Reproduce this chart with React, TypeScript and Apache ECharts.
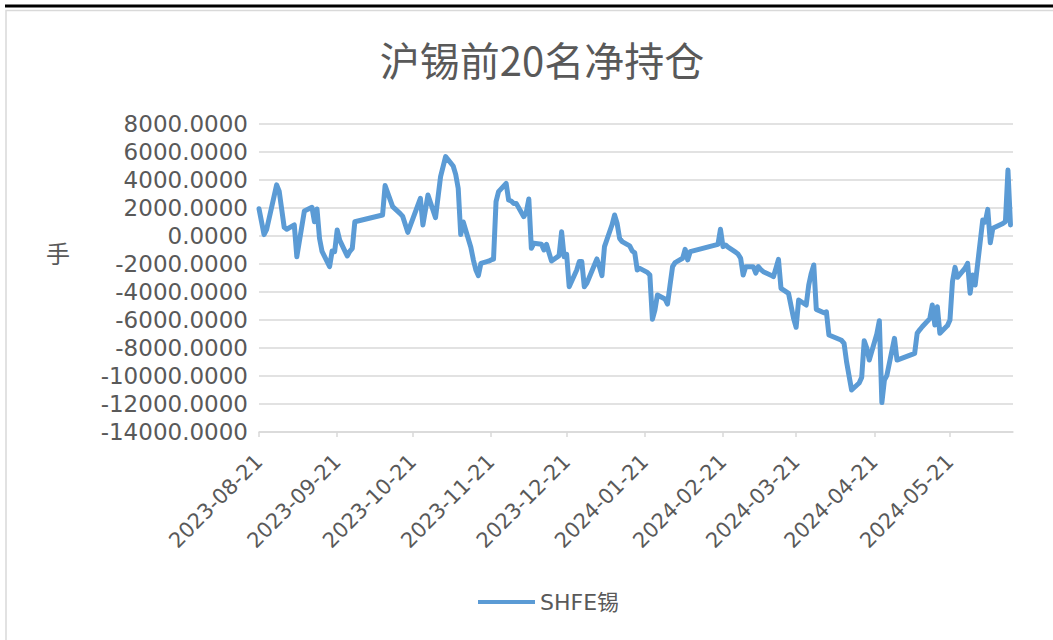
import React, { useEffect, useRef } from "react";
import * as echarts from "echarts";

const seriesName = "SHFE锡";
const titleText = "沪锡前20名净持仓";
const yAxisTitle = "手";

const dates: string[] = [
  "2023-08-21", "2023-08-23", "2023-08-24", "2023-08-28", "2023-08-29", "2023-08-31", "2023-09-01",
  "2023-09-04", "2023-09-05", "2023-09-08", "2023-09-11", "2023-09-12", "2023-09-13", "2023-09-14",
  "2023-09-15", "2023-09-18", "2023-09-19", "2023-09-20", "2023-09-21", "2023-09-22", "2023-09-25",
  "2023-09-26", "2023-09-27", "2023-09-28", "2023-10-09", "2023-10-10", "2023-10-13", "2023-10-16",
  "2023-10-17", "2023-10-19", "2023-10-24", "2023-10-25", "2023-10-27", "2023-10-30", "2023-11-01",
  "2023-11-03", "2023-11-06", "2023-11-07", "2023-11-08", "2023-11-09", "2023-11-10", "2023-11-13",
  "2023-11-14", "2023-11-15", "2023-11-16", "2023-11-17", "2023-11-20", "2023-11-21", "2023-11-22",
  "2023-11-23", "2023-11-24", "2023-11-27", "2023-11-28", "2023-11-29", "2023-11-30", "2023-12-01",
  "2023-12-04", "2023-12-05", "2023-12-06", "2023-12-07", "2023-12-08", "2023-12-11", "2023-12-12",
  "2023-12-13", "2023-12-14", "2023-12-15", "2023-12-18", "2023-12-19", "2023-12-20", "2023-12-21",
  "2023-12-22", "2023-12-25", "2023-12-26", "2023-12-27", "2023-12-28", "2023-12-29", "2024-01-02",
  "2024-01-03", "2024-01-04", "2024-01-05", "2024-01-08", "2024-01-09", "2024-01-10", "2024-01-11",
  "2024-01-12", "2024-01-15", "2024-01-16", "2024-01-17", "2024-01-18", "2024-01-19", "2024-01-22",
  "2024-01-23", "2024-01-24", "2024-01-25", "2024-01-26", "2024-01-29", "2024-01-30", "2024-01-31",
  "2024-02-01", "2024-02-02", "2024-02-05", "2024-02-06", "2024-02-07", "2024-02-08", "2024-02-19",
  "2024-02-20", "2024-02-21", "2024-02-22", "2024-02-23", "2024-02-26", "2024-02-27", "2024-02-28",
  "2024-02-29", "2024-03-01", "2024-03-04", "2024-03-05", "2024-03-06", "2024-03-07", "2024-03-08",
  "2024-03-11", "2024-03-12", "2024-03-13", "2024-03-14", "2024-03-15", "2024-03-18", "2024-03-19",
  "2024-03-20", "2024-03-21", "2024-03-22", "2024-03-25", "2024-03-26", "2024-03-27", "2024-03-28",
  "2024-03-29", "2024-04-01", "2024-04-02", "2024-04-03", "2024-04-08", "2024-04-09", "2024-04-10",
  "2024-04-11", "2024-04-12", "2024-04-15", "2024-04-16", "2024-04-17", "2024-04-18", "2024-04-19",
  "2024-04-22", "2024-04-23", "2024-04-24", "2024-04-25", "2024-04-26", "2024-04-29", "2024-04-30",
  "2024-05-06", "2024-05-07", "2024-05-08", "2024-05-09", "2024-05-10", "2024-05-13", "2024-05-14",
  "2024-05-15", "2024-05-16", "2024-05-17", "2024-05-20", "2024-05-21", "2024-05-22", "2024-05-23",
  "2024-05-24", "2024-05-27", "2024-05-28", "2024-05-29", "2024-05-30", "2024-05-31", "2024-06-03",
  "2024-06-04", "2024-06-05", "2024-06-06", "2024-06-07", "2024-06-11", "2024-06-12", "2024-06-13",
  "2024-06-14",
];

const values: number[] = [
  1950, 100, 450, 3650, 3200, 620, 480,
  790, -1480, 1790, 2050, 1020, 1930, -170,
  -1100, -2190, -1070, -1120, 430, -290, -1430,
  -1100, -880, 1020, 1500, 3600, 2100, 1600,
  1400, 260, 2690, 790, 2930, 1310, 4240,
  5670, 5000, 4400, 3400, 100, 1000, -800,
  -1700, -2430, -2830, -1950, -1800, -1710, -1650,
  2450, 3170, 3760, 2570, 2500, 2330, 2330,
  1380, 1700, 2640, -880, -520, -590, -1000,
  -590, -1200, -1790, -1400, 310, -1480, -1310,
  -3620, -2430, -1830, -1830, -3620, -3380, -1640,
  -2200, -2830, -760, 800, 1500, 910, -170,
  -400, -710, -1070, -1200, -2430, -2310, -2600,
  -2790, -5950, -5290, -4210, -4500, -4860, -3500,
  -2190, -1900, -1590, -950, -1710, -1120, -600,
  480, -760, -640, -800, -1150, -1300, -1590,
  -2790, -2190, -2190, -2650, -2190, -2400, -2550,
  -2800, -2910, -2300, -1670, -3740, -4100, -5000,
  -5900, -6520, -4570, -4930, -3500, -2670, -2070,
  -5240, -5480, -5410, -7070, -7450, -7670, -8980,
  -10000, -11000, -10500, -10100, -7480, -8000, -8860,
  -7000, -6050, -11900, -10300, -9950, -7310, -8860,
  -8450, -8380, -6950, -6700, -6480, -5900, -4930,
  -6360, -5050, -6950, -6400, -6000, -3260, -2240,
  -2950, -2300, -1950, -4090, -2790, -3500, 1140,
  1000, 1900, -480, 550, 900, 1020, 4710,
  790,
];

const xTickDates: string[] = [
  "2023-08-21", "2023-09-21", "2023-10-21", "2023-11-21", "2023-12-21",
  "2024-01-21", "2024-02-21", "2024-03-21", "2024-04-21", "2024-05-21",
];
const xMinDate = "2023-08-21";
const xMaxDate = "2024-06-15";

const yMin = -14000;
const yMax = 8000;
const yInterval = 2000;

function ts(s: string): number {
  const [y, m, d] = s.split("-").map(Number);
  return Date.UTC(y, m - 1, d);
}
function pad(n: number): string {
  return n < 10 ? "0" + n : String(n);
}
function fmt(v: number): string {
  const d = new Date(v);
  return d.getUTCFullYear() + "-" + pad(d.getUTCMonth() + 1) + "-" + pad(d.getUTCDate());
}

const TEXT = "#595959";
const GRID = "#d9d9d9";
const LINE = "#5b9bd5";
const FONT = "'DejaVu Sans', 'Noto Sans CJK SC', sans-serif";

export default function App() {
  const ref = useRef<HTMLDivElement>(null);

  useEffect(() => {
    if (!ref.current) return;
    const chart = echarts.init(ref.current, null, { renderer: "svg" });
    const tickTs = xTickDates.map(ts);
    const data = dates.map((d, i) => [ts(d), values[i]]);

    chart.setOption({
      animation: false,
      backgroundColor: "#ffffff",
      title: {
        text: titleText,
        left: 537,
        top: 34,
        textAlign: "center",
        textStyle: {
          fontFamily: "'Noto Sans CJK SC', sans-serif",
          fontSize: 40,
          fontWeight: "normal",
          color: TEXT,
        },
      },
      graphic: [
        {
          type: "line",
          z: 100,
          shape: { x1: 5, y1: 6, x2: 1053, y2: 6 },
          style: { stroke: "#000000", lineWidth: 3 },
        },
        {
          type: "rect",
          z: -1,
          shape: { x: 6, y: 10.5, width: 1200, height: 800 },
          style: { fill: "none", stroke: GRID, lineWidth: 1.5 },
        },
        {
          type: "text",
          x: 58,
          y: 252,
          style: {
            text: yAxisTitle,
            fill: TEXT,
            fontSize: 24,
            fontFamily: "'Noto Sans CJK SC', sans-serif",
            align: "center",
            verticalAlign: "middle",
          },
        },
      ],
      legend: {
        data: [seriesName],
        left: 473,
        top: 586,
        icon: "rect",
        itemWidth: 57,
        itemHeight: 4,
        itemGap: 7,
        textStyle: { fontSize: 22, color: TEXT, fontFamily: FONT },
      },
      grid: { left: 259, right: 40, top: 124, bottom: 208, containLabel: false },
      xAxis: {
        type: "value",
        min: ts(xMinDate),
        max: ts(xMaxDate),
        axisLine: { show: true, onZero: false, lineStyle: { color: GRID, width: 1.5 } },
        axisTick: { show: true, customValues: tickTs, length: 5, lineStyle: { color: GRID, width: 1.5 } },
        axisLabel: {
          customValues: tickTs,
          rotate: 45,
          margin: 26,
          fontSize: 21,
          color: TEXT,
          fontFamily: FONT,
          formatter: (v: number) => fmt(v),
        },
        splitLine: { show: false },
      },
      yAxis: {
        type: "value",
        min: yMin,
        max: yMax,
        interval: yInterval,
        axisLine: { show: false },
        axisTick: { show: false },
        splitLine: { show: true, lineStyle: { color: GRID, width: 1.5 } },
        axisLabel: {
          margin: 11,
          fontSize: 23,
          color: TEXT,
          fontFamily: FONT,
          formatter: (v: number) => v.toFixed(4),
        },
      },
      series: [
        {
          name: seriesName,
          type: "line",
          data,
          showSymbol: false,
          symbol: "none",
          lineStyle: { color: LINE, width: 5, join: "round", cap: "round" },
          itemStyle: { color: LINE },
        },
      ],
    });

    return () => chart.dispose();
  }, []);

  return (
    <div style={{ position: "fixed", left: 0, top: 0, width: 1053, height: 640, background: "#fff" }}>
      <div ref={ref} style={{ width: 1053, height: 640 }} />
    </div>
  );
}
